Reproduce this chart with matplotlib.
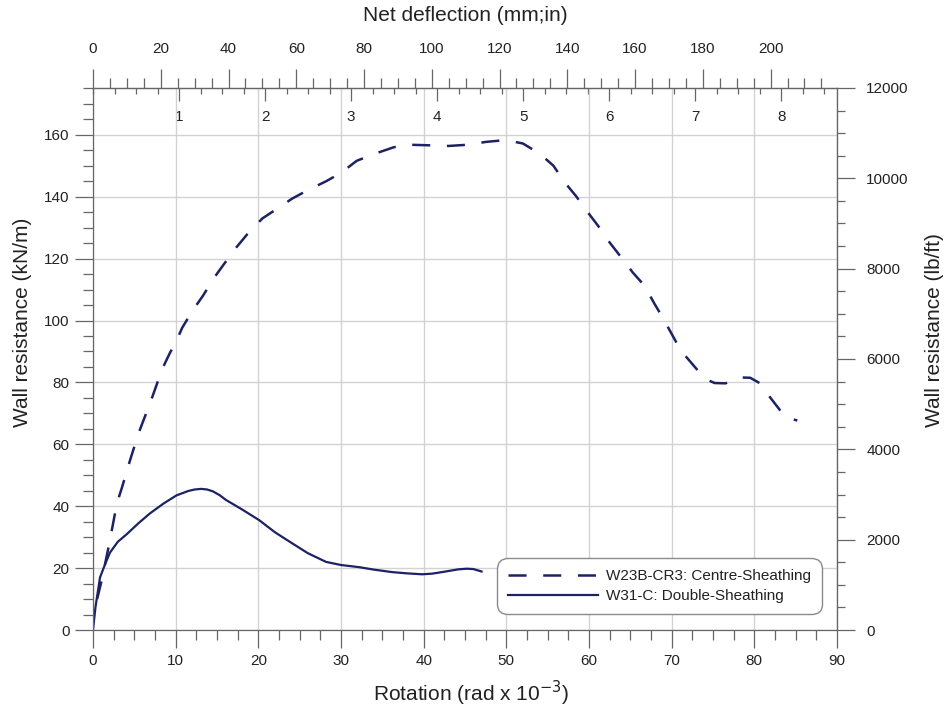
import matplotlib
matplotlib.use("Agg")
import matplotlib.pyplot as plt
from matplotlib.ticker import FixedLocator

plt.rcParams["font.family"] = ["Liberation Sans", "DejaVu Sans"]
plt.rcParams["lines.scale_dashes"] = False

# Wall W23B-CR3 (centre sheathing): rotation (rad x 1e-3) vs resistance (kN/m)
rot_cr3 = [0.5, 1.0, 1.9, 2.9, 3.5, 4.5, 5.5, 6.5, 7.2, 8.4, 9.3, 10.1, 10.8, 12.0,
           13.3, 14.7, 15.7, 17.3, 18.7, 20.5, 22.2, 24.1, 25.9, 28.2, 30.0, 31.9,
           34.0, 36.4, 38.2, 40.8, 43.0, 45.4, 47.5, 49.9, 52.0, 54.1, 55.7, 57.1,
           58.4, 59.9, 61.1, 62.5, 63.9, 65.3, 66.7, 67.9, 68.9, 70.1, 71.1, 72.8,
           74.0, 75.2, 76.5, 77.5, 78.3, 79.5, 80.7, 81.9, 83.4, 84.2, 85.2]
res_cr3 = [10.0, 15.5, 27.0, 41.0, 46.0, 55.0, 63.5, 70.5, 75.5, 84.5, 89.5, 93.5,
           97.7, 103.0, 108.0, 114.0, 117.7, 123.5, 128.0, 133.0, 136.0, 139.4,
           142.0, 145.0, 147.7, 151.6, 153.8, 156.0, 156.8, 156.6, 156.4, 156.8,
           157.7, 158.3, 157.2, 153.8, 150.0, 144.5, 140.3, 134.8, 130.6, 125.2,
           120.4, 115.5, 111.3, 105.5, 101.0, 95.2, 90.3, 85.0, 81.2, 79.8, 79.7,
           80.6, 81.6, 81.5, 79.7, 75.2, 70.0, 68.4, 67.7]

# Wall W31-C (double sheathing)
rot_w31 = [0.0, 0.3, 0.85, 1.5, 2.05, 3.0, 4.1, 5.5, 6.9, 8.5, 10.1, 11.5, 12.3,
           13.1, 13.8, 14.5, 15.3, 16.1, 18.0, 20.1, 22.0, 24.1, 26.0, 28.2, 30.0,
           32.2, 34.0, 36.2, 38.0, 39.8, 41.0, 42.2, 44.2, 45.2, 46.0, 47.0]
res_w31 = [0.0, 7.4, 17.0, 21.5, 25.0, 28.5, 31.0, 34.5, 37.7, 40.8, 43.5, 44.9,
           45.4, 45.6, 45.4, 44.8, 43.6, 42.0, 39.0, 35.5, 31.6, 28.0, 24.8, 22.0,
           21.0, 20.3, 19.5, 18.7, 18.3, 18.0, 18.2, 18.7, 19.6, 19.8, 19.7, 18.9]

label_cr3 = "W23B-CR3: Centre-Sheathing"
label_w31 = "W31-C: Double-Sheathing"

# Tick values for each scale
rot_ticks = list(range(0, 91, 10))
res_ticks = list(range(0, 161, 20))
mm_ticks = list(range(0, 201, 20))
in_ticks = list(range(1, 9))
lb_ticks = list(range(0, 12001, 2000))

WALL_HEIGHT_M = 2.44          # deflection (mm) = rotation (rad x 1e-3) * height (m)
MM_PER_IN = 25.4
LBFT_PER_KNM = 68.5218

line_col = "#1c2263"
tick_col = "#666666"
text_col = "#222222"
grid_col = "#d2d2d2"

fig = plt.figure(figsize=(9.45, 7.08), dpi=100)
W, H = 945, 708
x0, x1, y0, y1 = 93, 837, 88, 630
ax = fig.add_axes([x0 / W, 1 - y1 / H, (x1 - x0) / W, (y1 - y0) / H])

ax.plot(rot_cr3, res_cr3, color=line_col, lw=1.8, dashes=(13, 12), label=label_cr3)
ax.plot(rot_w31, res_w31, color=line_col, lw=1.6, label=label_w31)

ax.set_xlim(0, 90)
ax.set_ylim(0, 12000 / LBFT_PER_KNM)

ax.xaxis.set_major_locator(FixedLocator(rot_ticks))
ax.xaxis.set_minor_locator(FixedLocator([i * 2.5 for i in range(37)]))
ax.yaxis.set_major_locator(FixedLocator(res_ticks))
ax.yaxis.set_minor_locator(FixedLocator(list(range(0, 176, 5))))
ax.grid(True, which="major", color=grid_col, lw=1.0)
ax.set_axisbelow(True)

ax.tick_params(which="both", direction="out", color=tick_col, width=0.9,
               labelsize=11, labelcolor=text_col, top=False, right=False)
ax.tick_params(which="major", length=13, pad=4)
ax.tick_params(which="minor", length=7)
for s in ax.spines.values():
    s.set_color(tick_col)
    s.set_linewidth(0.9)

ax.set_xlabel("Rotation (rad x 10$^{-3}$)", fontsize=15, color=text_col)
ax.xaxis.set_label_coords(0.508, -0.09)
ax.set_ylabel("Wall resistance (kN/m)", fontsize=15, color=text_col)
ax.yaxis.set_label_coords(-0.082, 0.568)

# Top axis: net deflection in mm (ticks outward)
ax_mm = ax.secondary_xaxis("top", functions=(lambda r: r * WALL_HEIGHT_M,
                                             lambda d: d / WALL_HEIGHT_M))
ax_mm.xaxis.set_major_locator(FixedLocator(mm_ticks))
ax_mm.xaxis.set_minor_locator(FixedLocator(list(range(0, 216, 5))))
ax_mm.tick_params(which="both", direction="out", color=tick_col, width=0.9,
                  labelsize=11, labelcolor=text_col)
ax_mm.tick_params(which="major", length=14, pad=9)
ax_mm.tick_params(which="minor", length=7)
ax_mm.spines["top"].set_color(tick_col)
ax_mm.set_xlabel("Net deflection (mm;in)", fontsize=15, color=text_col, labelpad=15)

# Top axis: net deflection in inches (ticks inward, labels inside)
ax_in = ax.secondary_xaxis("top", functions=(lambda r: r * WALL_HEIGHT_M / MM_PER_IN,
                                             lambda d: d * MM_PER_IN / WALL_HEIGHT_M))
ax_in.xaxis.set_major_locator(FixedLocator(in_ticks))
ax_in.xaxis.set_minor_locator(FixedLocator([i * 0.25 for i in range(35)]))
ax_in.tick_params(which="both", direction="in", color=tick_col, width=0.9,
                  labelsize=11, labelcolor=text_col)
ax_in.tick_params(which="major", length=9, pad=-26)
ax_in.tick_params(which="minor", length=4.5)
ax_in.spines["top"].set_color(tick_col)

# Right axis: wall resistance in lb/ft
ax_lb = ax.secondary_yaxis("right", functions=(lambda v: v * LBFT_PER_KNM,
                                               lambda p: p / LBFT_PER_KNM))
ax_lb.yaxis.set_major_locator(FixedLocator(lb_ticks))
ax_lb.yaxis.set_minor_locator(FixedLocator(list(range(0, 12001, 500))))
ax_lb.tick_params(which="both", direction="out", color=tick_col, width=0.9,
                  labelsize=11, labelcolor=text_col)
ax_lb.tick_params(which="major", length=13, pad=8)
ax_lb.tick_params(which="minor", length=6)
ax_lb.spines["right"].set_color(tick_col)
ax_lb.set_ylabel("Wall resistance (lb/ft)", fontsize=15, color=text_col)
ax_lb.yaxis.set_label_coords(1.118, 0.553, transform=ax.transAxes)

leg = ax.legend(loc="lower right", bbox_to_anchor=(0.980, 0.029), borderaxespad=0,
                fontsize=11, handlelength=5.9, handletextpad=0.5, labelspacing=0.42,
                borderpad=0.72, frameon=True, fancybox=True, framealpha=1)
frame = leg.get_frame()
frame.set_edgecolor("#8a8a8a")
frame.set_linewidth(1.0)
frame.set_boxstyle("round", pad=0, rounding_size=0.7)
for t in leg.get_texts():
    t.set_color(text_col)

fig.savefig("out.png", dpi=100, facecolor="white")
